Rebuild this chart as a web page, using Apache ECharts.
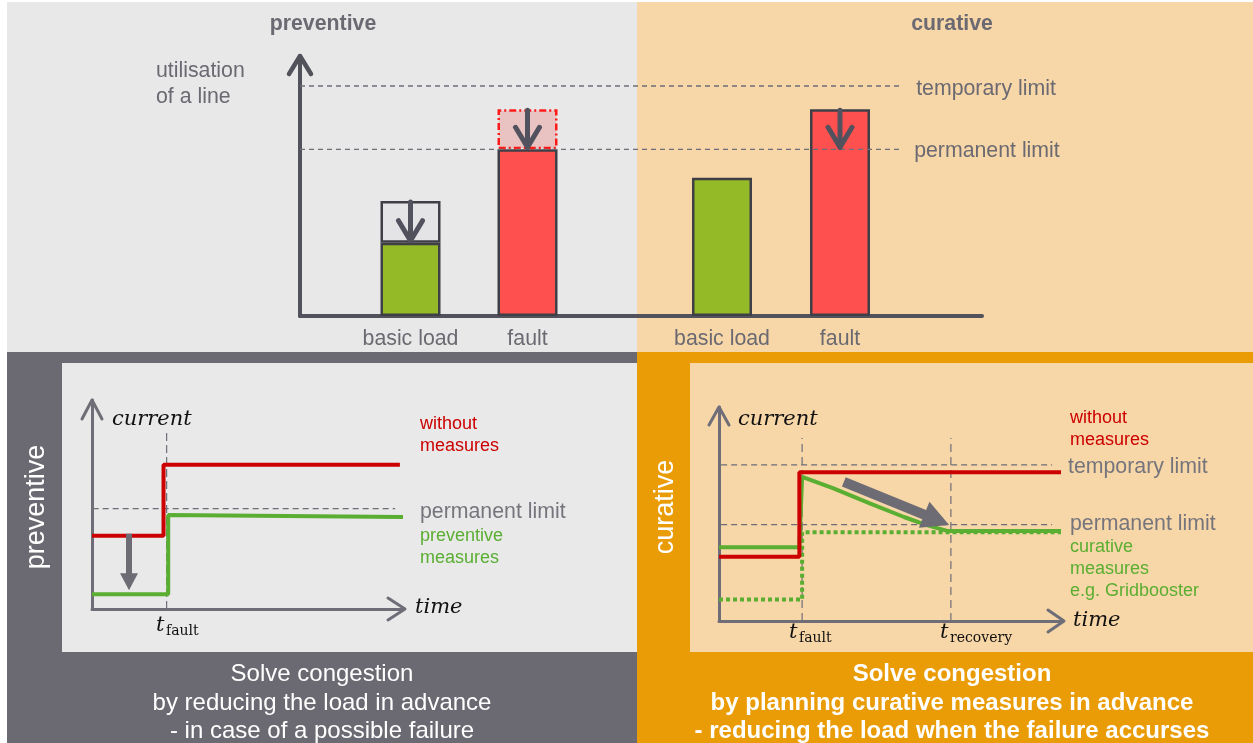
<!DOCTYPE html>
<html><head><meta charset="utf-8">
<script src="https://cdn.jsdelivr.net/npm/echarts@6/dist/echarts.min.js"></script>
<style>html,body{margin:0;padding:0;background:#fff}#c{width:1253px;height:743px}</style>
</head><body><div id="c"></div>
<script>
// ---------- data ----------
const topCategories = ['basic load', 'fault'];
const prevBefore = [69, 124];      // preventive: load before measure
const prevAfter = [44, 100];       // preventive: load after measure
const curLoad = [83, 124];         // curative loads
const curAfterFault = 100;         // curative fault load after measure
const topTempLimit = 138;
const topPermLimit = 100;
const topLimitLabels = ['temporary limit', 'permanent limit'];

const blWithout = [[0, 3.5], [2.3, 3.5], [2.3, 6.9], [9.9, 6.9]];
const blPreventive = [[0, 0.7], [2.45, 0.7], [2.45, 4.5], [10, 4.4]];
const blPermLimit = 4.8;
const blFault = 2.4;
const blArrow = [[1.19, 3.6], [1.19, 0.9]];

const brWithout = [[0, 3.0], [2.35, 3.0], [2.35, 6.95], [10, 6.95]];
const brCurative = [[0, 3.45], [2.35, 3.45], [2.43, 6.73], [3.33, 6.21], [4.39, 5.51], [5.41, 4.86], [6.05, 4.49], [6.67, 4.21], [10, 4.21]];
const brGridbooster = [[0, 1.0], [2.43, 1.0], [2.43, 4.15], [10, 4.15]];
const brTempLimit = 7.3;
const brPermLimit = 4.5;
const brFault = 2.43;
const brRecovery = 6.78;
const brArrow = [[3.65, 6.5], [6.73, 4.49]];

// ---------- style ----------
const FONT = '"Liberation Sans", Arial, sans-serif';
const MATH = '"DejaVu Serif", serif';
const C = {
  grey: '#6B6A72', axis: '#52525C', axis2: '#6F6E78', dash: '#6E6E78',
  red: '#CC0000', green: '#5AAE32', barGreen: '#95BA27', barRed: '#FF5050',
  border: '#3F3F47', arrow: '#52525E', arrow2: '#6D6C75'
};

const chart = echarts.init(document.getElementById('c'), null, {renderer: 'canvas'});

const hiddenVal = (g, min, max, show, lineColor, lineWidth) => ({
  gridIndex: g, type: 'value', min: min, max: max, show: true,
  axisLine: {show: show, onZero: false, lineStyle: {color: lineColor, width: lineWidth}},
  axisTick: {show: false}, axisLabel: {show: false}, splitLine: {show: false}
});
const catAxis = (g) => ({
  gridIndex: g, type: 'category', data: topCategories,
  axisLine: {show: false}, axisTick: {show: false},
  axisLabel: {color: C.grey, fontSize: 21.3, margin: 13, fontFamily: FONT,
    interval: 0, showMinLabel: true, showMaxLabel: true, hideOverlap: false}
});
const dashLine = (xa, data, color, width, type, extra) => Object.assign({
  type: 'line', xAxisIndex: xa, yAxisIndex: xa, data: data, symbol: 'none',
  clip: false, silent: true, animation: false, z: 3,
  lineStyle: {color: color, width: width, type: type}
}, extra || {});

const option = {
  animation: false,
  grid: [
    {left: 300, top: 56, width: 682, height: 260},
    {left: 352, top: 56, width: 234, height: 260},
    {left: 663, top: 56, width: 236, height: 260},
    {left: 92, top: 400, width: 311, height: 209},
    {left: 719, top: 407, width: 342, height: 214}
  ],
  xAxis: [
    hiddenVal(0, 0, 100, true, C.axis, 4),
    catAxis(1),
    catAxis(2),
    hiddenVal(3, 0, 10, true, C.axis2, 3),
    hiddenVal(4, 0, 10, true, C.axis2, 3)
  ],
  yAxis: [
    hiddenVal(0, 0, 156, true, C.axis, 4),
    Object.assign(hiddenVal(1, 0, 156, false, C.axis, 4), {show: false}),
    Object.assign(hiddenVal(2, 0, 156, false, C.axis, 4), {show: false}),
    hiddenVal(3, 0, 10, true, C.axis2, 3),
    hiddenVal(4, 0, 10, true, C.axis2, 3)
  ],
  series: [
    {
      type: 'bar', xAxisIndex: 1, yAxisIndex: 1, stack: 'p', barWidth: 60,
      itemStyle: {borderColor: C.border, borderWidth: 2.5},
      data: prevAfter.map((v, i) => ({value: v, itemStyle: {color: i === 0 ? C.barGreen : C.barRed}}))
    },
    {
      type: 'bar', xAxisIndex: 1, yAxisIndex: 1, stack: 'p', barWidth: 60,
      data: [
        {value: prevBefore[0] - prevAfter[0], itemStyle: {color: '#E4E4E6', borderColor: C.border, borderWidth: 2.5}},
        {value: prevBefore[1] - prevAfter[1], itemStyle: {color: '#E9C2C2', borderColor: '#FF1A1A', borderWidth: 2.5, borderType: [7, 3, 2, 3]}}
      ]
    },
    {
      type: 'bar', xAxisIndex: 2, yAxisIndex: 2, barWidth: 60,
      itemStyle: {borderColor: C.border, borderWidth: 2.5},
      data: curLoad.map((v, i) => ({value: v, itemStyle: {color: i === 0 ? C.barGreen : C.barRed}}))
    },
    dashLine(0, [[0, topTempLimit], [88, topTempLimit]], C.dash, 1.3, [5, 4], {
      z: 5, endLabel: {show: true, formatter: topLimitLabels[0], distance: 16, offset: [0, 3], color: C.grey, fontSize: 21.3, fontFamily: FONT}
    }),
    dashLine(0, [[0, topPermLimit], [88, topPermLimit]], C.dash, 1.3, [5, 4], {
      z: 5, endLabel: {show: true, formatter: topLimitLabels[1], distance: 14, offset: [0, 2], color: C.grey, fontSize: 21.3, fontFamily: FONT}
    }),
    // bottom-left
    dashLine(3, [[-0.3, blPermLimit], [9.75, blPermLimit]], C.dash, 1.2, [6, 4]),
    dashLine(3, [[blFault, 0], [blFault, 8.55]], C.dash, 1.2, [8, 4]),
    dashLine(3, blPreventive, C.green, 4, 'solid', {z: 4}),
    dashLine(3, blWithout, C.red, 4, 'solid', {z: 5}),
    // bottom-right
    dashLine(4, [[-0.23, brTempLimit], [9.74, brTempLimit]], C.dash, 1.2, [6, 4]),
    dashLine(4, [[-0.23, brPermLimit], [9.74, brPermLimit]], C.dash, 1.2, [6, 4]),
    dashLine(4, [[brFault, 0], [brFault, 8.55]], C.dash, 1.2, [8, 5]),
    dashLine(4, [[brRecovery, 0], [brRecovery, 8.55]], C.dash, 1.2, [8, 5]),
    dashLine(4, brGridbooster, C.green, 4, [4, 3], {z: 4}),
    dashLine(4, brCurative, C.green, 4, 'solid', {z: 4}),
    dashLine(4, brWithout, C.red, 4, 'solid', {z: 5})
  ]
};
chart.setOption(option);

// ---------- annotations ----------
const cv = (g, p) => chart.convertToPixel({gridIndex: g}, p);
const G = [];
const rect = (x, y, w, h, fill) => G.push({type: 'rect', z: -10, silent: true, shape: {x: x, y: y, width: w, height: h}, style: {fill: fill}});
const text = (x, y, t, font, fill, align, extra) => G.push(Object.assign({
  type: 'text', x: x, y: y, z: 20, silent: true,
  style: {text: t, font: font, fill: fill, textAlign: align || 'left', textVerticalAlign: 'middle'}
}, extra || {}));
const poly = (pts, stroke, w) => G.push({type: 'polyline', z: 20, silent: true, shape: {points: pts},
  style: {stroke: stroke, lineWidth: w, fill: null, lineCap: 'round', lineJoin: 'round'}});
const chevronUp = (tip, hw, h, stroke, w) => poly([[tip[0] - hw, tip[1] + h], tip, [tip[0] + hw, tip[1] + h]], stroke, w);
const chevronDown = (tip, hw, h, stroke, w) => poly([[tip[0] - hw, tip[1] - h], tip, [tip[0] + hw, tip[1] - h]], stroke, w);
const chevronRight = (tip, hw, h, stroke, w) => poly([[tip[0] - h, tip[1] - hw], tip, [tip[0] - h, tip[1] + hw]], stroke, w);
const solidArrow = (p0, p1, shaftW, headL, headW, fill) => {
  const dx = p1[0] - p0[0], dy = p1[1] - p0[1], L = Math.hypot(dx, dy);
  const ux = dx / L, uy = dy / L, nx = -uy, ny = ux;
  const bx = p1[0] - ux * headL, by = p1[1] - uy * headL;
  const s = shaftW / 2, h = headW / 2;
  G.push({type: 'polygon', z: 20, silent: true, shape: {points: [
    [p0[0] + nx * s, p0[1] + ny * s], [bx + nx * s, by + ny * s], [bx + nx * h, by + ny * h], p1,
    [bx - nx * h, by - ny * h], [bx - nx * s, by - ny * s], [p0[0] - nx * s, p0[1] - ny * s]
  ]}, style: {fill: fill}});
};

// backgrounds
rect(7, 2, 630, 350, '#E8E8E8');
rect(637, 2, 616, 350, '#F7D6A7');
rect(7, 352, 630, 391, '#6B6A72');
rect(62, 363, 575, 289, '#E9E9E9');
rect(637, 352, 616, 391, '#EA9C07');
rect(690, 363, 563, 289, '#F7D6A7');

// top texts
text(323, 24, 'preventive', 'bold 21.3px ' + FONT, C.grey, 'center');
text(952, 24, 'curative', 'bold 21.3px ' + FONT, C.grey, 'center');
G.push({type: 'text', x: 156, y: 84, z: 20, silent: true, style: {text: 'utilisation\nof a line',
  font: '21.3px ' + FONT, fill: C.grey, textAlign: 'left', textVerticalAlign: 'middle', lineHeight: 26}});

// top axis chevron
chevronUp(cv(0, [0, 156]), 11, 18, C.axis, 4.5);
// bar arrows
[[1, 0, prevBefore[0], prevAfter[0]], [1, 1, prevBefore[1], prevAfter[1]], [2, 1, curLoad[1], curAfterFault]].forEach(a => {
  const p0 = cv(a[0], [a[1], a[2]]), p1 = cv(a[0], [a[1], a[3]]);
  const tip = [p0[0], p1[1] - 2];
  poly([[p0[0], p0[1] + 1], tip], C.arrow, 5);
  chevronDown(tip, 12, 20, C.arrow, 5);
});

// bottom-left
chevronUp(cv(3, [0, 10]), 10, 19, C.axis2, 3);
chevronRight((p => [p[0] + 2, p[1]])(cv(3, [10, 0])), 11, 17, C.axis2, 3);
solidArrow(cv(3, blArrow[0]), cv(3, blArrow[1]), 6, 17, 18, C.arrow2);
text(112, 420, 'current', 'italic 21px ' + MATH, '#111', 'left');
text(415, 608, 'time', 'italic 21px ' + MATH, '#111', 'left');
text(156, 626, 't', 'italic 21px ' + MATH, '#111', 'left');
text(166, 631, 'fault', '14px ' + MATH, '#111', 'left');
text(420, 424, 'without', '18px ' + FONT, C.red);
text(420, 446, 'measures', '18px ' + FONT, C.red);
text(420, 512, 'permanent limit', '21.3px ' + FONT, '#76757D');
text(420, 536, 'preventive', '18px ' + FONT, C.green);
text(420, 558, 'measures', '18px ' + FONT, C.green);

// bottom-right
chevronUp(cv(4, [0, 10]), 10, 18, C.axis2, 3);
chevronRight((p => [p[0] + 3, p[1]])(cv(4, [10, 0])), 11, 16, C.axis2, 3);
solidArrow(cv(4, brArrow[0]), cv(4, brArrow[1]), 10, 27, 28, C.arrow2);
text(738, 420, 'current', 'italic 21px ' + MATH, '#111', 'left');
text(1073, 621, 'time', 'italic 21px ' + MATH, '#111', 'left');
text(789, 633, 't', 'italic 21px ' + MATH, '#111', 'left');
text(799, 638, 'fault', '14px ' + MATH, '#111', 'left');
text(940, 633, 't', 'italic 21px ' + MATH, '#111', 'left');
text(950, 638, 'recovery', '14px ' + MATH, '#111', 'left');
text(1070, 418, 'without', '18px ' + FONT, C.red);
text(1070, 440, 'measures', '18px ' + FONT, C.red);
text(1068, 467, 'temporary limit', '21.3px ' + FONT, '#76757D');
text(1070, 524, 'permanent limit', '21.3px ' + FONT, '#76757D');
text(1070, 547, 'curative', '18px ' + FONT, C.green);
text(1070, 569, 'measures', '18px ' + FONT, C.green);
text(1070, 591, 'e.g. Gridbooster', '18px ' + FONT, C.green);

// side labels
text(37, 507, 'preventive', '27px ' + FONT, '#FFFFFF', 'center', {rotation: Math.PI / 2});
text(666, 507, 'curative', '27px ' + FONT, '#FFFFFF', 'center', {rotation: Math.PI / 2});

// bottom statements
G.push({type: 'text', x: 322, y: 703, z: 20, silent: true, style: {
  text: 'Solve congestion\nby reducing the load in advance\n- in case of a possible failure',
  font: '24px ' + FONT, fill: '#FFFFFF', textAlign: 'center', textVerticalAlign: 'middle', lineHeight: 28.5}});
G.push({type: 'text', x: 952, y: 703, z: 20, silent: true, style: {
  text: 'Solve congestion\nby planning curative measures in advance\n- reducing the load when the failure accurses',
  font: 'bold 24px ' + FONT, fill: '#FFFFFF', textAlign: 'center', textVerticalAlign: 'middle', lineHeight: 28.5}});

chart.setOption({graphic: G});
</script></body></html>
